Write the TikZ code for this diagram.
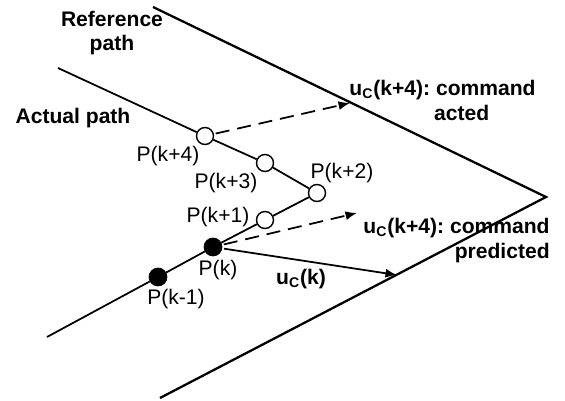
\documentclass[tikz,border=0pt]{standalone}
\usepackage{fontspec}
\setmainfont{Liberation Sans}
\usetikzlibrary{arrows.meta}
\frenchspacing

\begin{document}
\begin{tikzpicture}[>=Latex,x=0.02cm,y=-0.02cm,
  refline/.style={line width=1.3pt},
  actline/.style={line width=1pt},
  openpt/.style={draw,circle,fill=white,line width=0.8pt,minimum size=0.34cm,inner sep=0pt},
  fullpt/.style={draw,circle,fill=black,minimum size=0.36cm,inner sep=0pt},
  ptlabel/.style={font=\fontsize{12}{13}\selectfont,inner sep=0pt},
  boldlabel/.style={font=\fontsize{12}{14}\selectfont\bfseries,inner sep=0pt},
  cmdarrow/.style={-{Latex[length=2.3mm,width=1.8mm]},line width=1pt,shorten <=1pt},
  dasharrow/.style={cmdarrow,dash pattern=on 8pt off 4.5pt}]
\useasboundingbox (0,0) rectangle (565,401);
% reference path
\coordinate (r0) at (153,7);
\coordinate (rtip) at (546,197);
\coordinate (r1) at (160,398);
\draw[refline] (r0)--(rtip)--(r1);
% actual path
\coordinate (a0) at (47,337);
\coordinate (a1) at (58,68);
\node[fullpt] (pkm1) at (158,277) {};
\node[fullpt] (pk) at (213,247) {};
\node[openpt] (pk1) at (265,220) {};
\node[openpt] (pk2) at (317,193) {};
\node[openpt] (pk3) at (265,163) {};
\node[openpt] (pk4) at (205,136) {};
\draw[actline] (a0)--(pkm1)--(pk)--(pk1)--(pk2)--(pk3)--(pk4)--(a1);
% commands
\coordinate (acted) at (350,103);
\coordinate (pred) at (357,213);
\coordinate (now) at (397,275);
\draw[dasharrow] (pk4)--(acted);
\draw[dasharrow] (pk)--(pred);
\draw[cmdarrow] (pk)--(now);
% labels
\node[boldlabel,align=center] (lref) at (112,33) {Reference\\path};
\node[boldlabel] (lact) at (73,118) {Actual path};
\node[ptlabel] (lpk4) at (168,156) {P(k+4)};
\node[ptlabel] (lpk3) at (226,183) {P(k+3)};
\node[ptlabel] (lpk2) at (342,173) {P(k+2)};
\node[ptlabel] (lpk1) at (218,217) {P(k+1)};
\node[ptlabel] (lpk) at (218,270) {P(k)};
\node[ptlabel] (lpkm1) at (176,299) {P(k-1)};
\node[boldlabel] (lnow) at (301,279) {u\textsubscript{C}(k)};
\node[boldlabel,align=right,anchor=north east] (lacted) at (536,80) {u\textsubscript{C}(k+4): command\\acted\hspace*{2.2em}};
\node[boldlabel,align=right,anchor=north east] (lpred) at (550,218) {u\textsubscript{C}(k+4): command\\predicted};
\end{tikzpicture}
\end{document}
